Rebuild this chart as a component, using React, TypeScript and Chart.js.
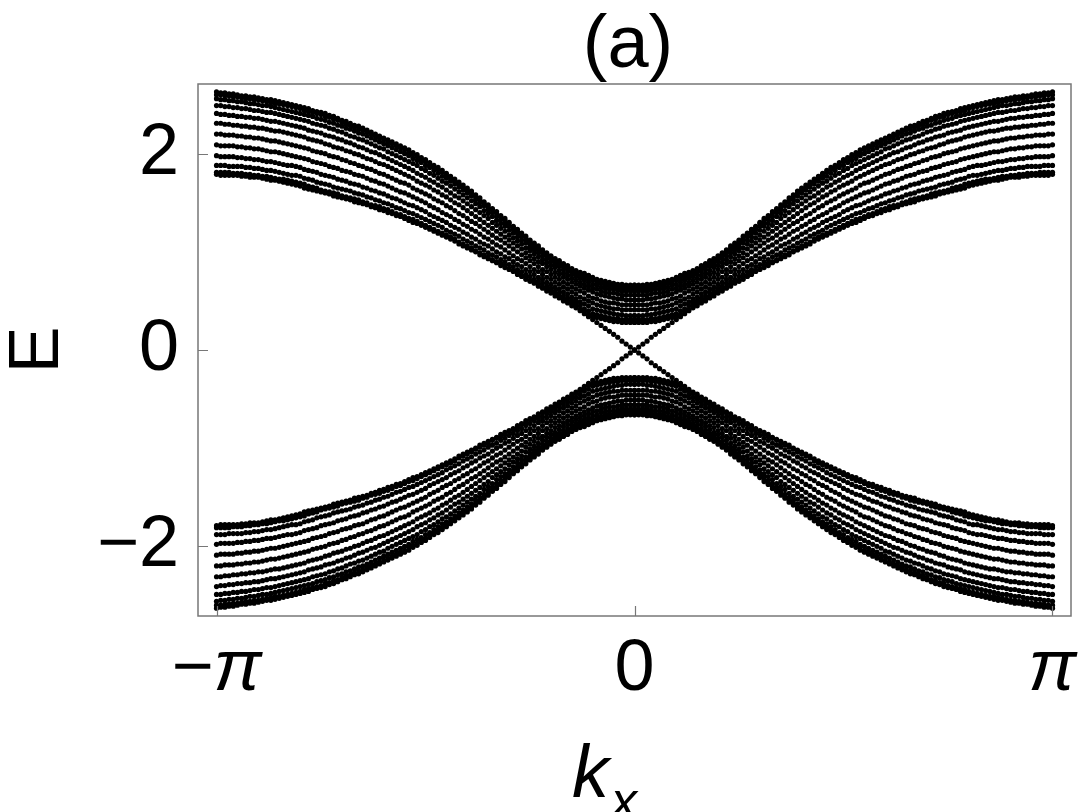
import React, { useEffect, useRef } from 'react';
import { Chart, registerables } from 'chart.js';

Chart.register(...registerables);

// kx in units of pi (right half, 0..1); the picture is mirror-symmetric in kx and in E
const U = [0,0.01,0.02,0.03,0.04,0.05,0.06,0.07,0.08,0.09,0.1,0.11,0.12,0.13,0.14,0.15,0.16,0.17,0.18,0.19,0.2,0.21,0.22,0.23,0.24,0.25,0.26,0.27,0.28,0.29,0.3,0.31,0.32,0.33,0.34,0.35,0.36,0.37,0.38,0.39,0.4,0.41,0.42,0.43,0.44,0.45,0.46,0.47,0.48,0.49,0.5,0.51,0.52,0.53,0.54,0.55,0.56,0.57,0.58,0.59,0.6,0.61,0.62,0.63,0.64,0.65,0.66,0.67,0.68,0.69,0.7,0.71,0.72,0.73,0.74,0.75,0.76,0.77,0.78,0.79,0.8,0.81,0.82,0.83,0.84,0.85,0.86,0.87,0.88,0.89,0.9,0.91,0.92,0.93,0.94,0.95,0.96,0.97,0.98,0.99,1];

// edge-state branch (crosses zero at kx = 0, merges into the band at larger kx)
const BAND_EDGE = [0,.03,.06,.09,.13,.16,.19,.22,.25,.28,.31,.34,.37,.40,.43,.45,.48,.50,.53,.55,.58,.60,.63,.65,.68,.70,.72,.75,.77,.80,.82,.84,.86,.89,.91,.93,.95,.97,1.00,1.02,1.04,1.06,1.08,1.11,1.13,1.15,1.17,1.19,1.21,1.23,1.25,1.27,1.29,1.30,1.32,1.34,1.36,1.37,1.39,1.40,1.42,1.43,1.45,1.46,1.48,1.49,1.50,1.51,1.53,1.54,1.55,1.56,1.57,1.59,1.60,1.61,1.62,1.63,1.64,1.65,1.67,1.68,1.69,1.70,1.71,1.72,1.73,1.73,1.74,1.75,1.76,1.76,1.76,1.77,1.77,1.78,1.78,1.78,1.78,1.78,1.79];
const BAND_1 = [.28,.28,.28,.28,.29,.29,.30,.31,.32,.33,.34,.36,.39,.41,.44,.47,.50,.52,.55,.57,.60,.62,.64,.67,.69,.71,.74,.76,.79,.81,.83,.86,.88,.90,.92,.95,.97,.99,1.01,1.04,1.06,1.08,1.10,1.13,1.15,1.17,1.19,1.21,1.23,1.25,1.27,1.29,1.31,1.33,1.34,1.36,1.38,1.39,1.41,1.43,1.44,1.46,1.47,1.48,1.50,1.51,1.53,1.54,1.55,1.56,1.57,1.59,1.60,1.61,1.62,1.63,1.65,1.66,1.67,1.69,1.70,1.71,1.72,1.73,1.74,1.74,1.75,1.76,1.77,1.77,1.78,1.78,1.79,1.79,1.80,1.80,1.80,1.81,1.81,1.81,1.81];
const BAND_2 = [.31,.31,.31,.31,.32,.32,.33,.34,.35,.36,.37,.40,.42,.45,.48,.50,.53,.55,.58,.60,.63,.65,.68,.70,.72,.75,.77,.80,.82,.85,.87,.90,.92,.95,.97,.99,1.02,1.04,1.06,1.09,1.11,1.13,1.16,1.18,1.20,1.22,1.25,1.27,1.29,1.31,1.33,1.35,1.37,1.39,1.40,1.42,1.44,1.45,1.47,1.49,1.50,1.52,1.53,1.55,1.56,1.58,1.59,1.60,1.62,1.63,1.64,1.65,1.66,1.68,1.69,1.70,1.71,1.73,1.74,1.75,1.77,1.78,1.78,1.79,1.80,1.81,1.82,1.83,1.83,1.84,1.85,1.85,1.86,1.86,1.87,1.87,1.87,1.87,1.88,1.88,1.88];
const BAND_3 = [.35,.35,.35,.36,.36,.37,.38,.39,.40,.41,.42,.45,.47,.49,.52,.54,.57,.59,.62,.64,.67,.69,.72,.74,.77,.80,.82,.85,.87,.90,.93,.95,.98,1.00,1.03,1.06,1.08,1.10,1.13,1.15,1.18,1.20,1.23,1.25,1.27,1.30,1.32,1.34,1.36,1.38,1.41,1.43,1.45,1.47,1.48,1.50,1.52,1.54,1.55,1.57,1.59,1.60,1.62,1.63,1.65,1.66,1.68,1.69,1.70,1.72,1.73,1.74,1.76,1.77,1.78,1.79,1.81,1.82,1.83,1.84,1.86,1.87,1.88,1.88,1.89,1.90,1.91,1.92,1.92,1.93,1.94,1.94,1.95,1.95,1.96,1.96,1.97,1.97,1.97,1.97,1.98];
const BAND_4 = [.41,.41,.41,.41,.42,.42,.43,.44,.45,.46,.48,.50,.52,.54,.57,.59,.62,.64,.67,.69,.72,.74,.77,.80,.82,.85,.88,.91,.93,.96,.99,1.02,1.05,1.07,1.10,1.13,1.15,1.18,1.21,1.23,1.26,1.28,1.31,1.33,1.36,1.38,1.40,1.43,1.45,1.47,1.50,1.52,1.54,1.56,1.58,1.60,1.61,1.63,1.65,1.67,1.69,1.70,1.72,1.73,1.75,1.77,1.78,1.79,1.81,1.82,1.83,1.85,1.86,1.87,1.89,1.90,1.91,1.92,1.94,1.95,1.96,1.97,1.98,1.99,2.00,2.01,2.02,2.02,2.03,2.04,2.05,2.05,2.06,2.06,2.07,2.07,2.08,2.08,2.08,2.08,2.09];
const BAND_5 = [.46,.46,.46,.46,.47,.48,.48,.49,.50,.52,.53,.55,.58,.60,.62,.64,.67,.69,.72,.74,.77,.80,.82,.85,.88,.91,.94,.97,1.00,1.03,1.06,1.09,1.12,1.14,1.17,1.20,1.23,1.26,1.29,1.31,1.34,1.37,1.39,1.42,1.45,1.47,1.50,1.52,1.54,1.57,1.59,1.61,1.63,1.65,1.68,1.70,1.71,1.73,1.75,1.77,1.79,1.80,1.82,1.84,1.85,1.87,1.88,1.90,1.91,1.93,1.94,1.96,1.97,1.98,2.00,2.01,2.02,2.03,2.05,2.06,2.07,2.08,2.09,2.10,2.11,2.12,2.13,2.13,2.14,2.15,2.16,2.16,2.17,2.17,2.18,2.18,2.19,2.19,2.19,2.20,2.20];
const BAND_6 = [.51,.51,.51,.52,.52,.53,.54,.55,.56,.57,.59,.61,.63,.65,.67,.69,.72,.74,.77,.79,.82,.85,.88,.90,.93,.96,.99,1.03,1.06,1.09,1.12,1.15,1.18,1.21,1.24,1.27,1.30,1.33,1.36,1.39,1.42,1.45,1.48,1.50,1.53,1.56,1.58,1.61,1.63,1.66,1.68,1.70,1.72,1.75,1.77,1.79,1.81,1.83,1.85,1.87,1.89,1.90,1.92,1.94,1.95,1.97,1.99,2.00,2.02,2.03,2.05,2.06,2.07,2.09,2.10,2.12,2.13,2.14,2.15,2.17,2.18,2.19,2.20,2.21,2.22,2.23,2.23,2.24,2.25,2.26,2.26,2.27,2.27,2.28,2.28,2.29,2.29,2.30,2.30,2.31,2.31];
const BAND_7 = [.56,.56,.56,.56,.57,.58,.58,.59,.60,.62,.63,.65,.67,.69,.71,.73,.76,.78,.81,.84,.86,.89,.92,.95,.98,1.01,1.04,1.08,1.11,1.14,1.17,1.21,1.24,1.27,1.30,1.34,1.37,1.40,1.43,1.46,1.49,1.52,1.55,1.57,1.60,1.63,1.66,1.68,1.71,1.73,1.76,1.78,1.80,1.83,1.85,1.87,1.89,1.91,1.93,1.95,1.97,1.99,2.01,2.02,2.04,2.06,2.07,2.09,2.11,2.12,2.14,2.15,2.17,2.18,2.19,2.21,2.22,2.23,2.24,2.26,2.27,2.28,2.29,2.30,2.31,2.32,2.33,2.33,2.34,2.35,2.36,2.36,2.37,2.37,2.38,2.38,2.39,2.39,2.40,2.40,2.41];
const BAND_8 = [.60,.60,.60,.60,.61,.62,.62,.63,.64,.66,.67,.69,.71,.73,.75,.77,.80,.82,.85,.87,.90,.93,.96,.99,1.02,1.05,1.09,1.12,1.15,1.19,1.22,1.26,1.29,1.32,1.36,1.39,1.42,1.46,1.49,1.52,1.55,1.58,1.61,1.64,1.67,1.70,1.72,1.75,1.78,1.80,1.83,1.85,1.88,1.90,1.92,1.94,1.96,1.98,2.00,2.02,2.05,2.06,2.08,2.10,2.12,2.14,2.15,2.17,2.18,2.20,2.22,2.23,2.25,2.26,2.28,2.29,2.30,2.31,2.33,2.34,2.35,2.36,2.37,2.38,2.39,2.40,2.41,2.42,2.42,2.43,2.44,2.44,2.45,2.46,2.46,2.47,2.47,2.48,2.48,2.49,2.49];
const BAND_9 = [.63,.63,.63,.63,.64,.65,.65,.66,.68,.69,.71,.72,.74,.76,.78,.80,.83,.85,.88,.90,.93,.96,.99,1.02,1.05,1.08,1.12,1.16,1.19,1.23,1.26,1.29,1.33,1.36,1.40,1.43,1.47,1.50,1.53,1.57,1.60,1.63,1.66,1.69,1.72,1.75,1.77,1.80,1.83,1.86,1.88,1.91,1.93,1.95,1.98,2.00,2.02,2.04,2.06,2.08,2.10,2.12,2.14,2.16,2.18,2.20,2.21,2.23,2.25,2.26,2.28,2.29,2.31,2.32,2.34,2.35,2.36,2.38,2.39,2.40,2.41,2.42,2.43,2.44,2.45,2.46,2.47,2.48,2.49,2.49,2.50,2.51,2.51,2.52,2.53,2.53,2.54,2.54,2.55,2.55,2.56];
const BAND_10 = [.65,.65,.65,.65,.66,.67,.67,.68,.70,.71,.73,.75,.76,.78,.80,.82,.85,.87,.90,.92,.95,.98,1.01,1.04,1.08,1.11,1.14,1.18,1.21,1.25,1.29,1.32,1.36,1.39,1.43,1.46,1.50,1.53,1.56,1.60,1.63,1.66,1.69,1.72,1.75,1.78,1.81,1.84,1.86,1.89,1.92,1.94,1.97,1.99,2.01,2.04,2.06,2.08,2.10,2.12,2.14,2.16,2.18,2.20,2.22,2.24,2.25,2.27,2.29,2.30,2.32,2.34,2.35,2.37,2.38,2.40,2.41,2.42,2.43,2.44,2.46,2.47,2.48,2.49,2.50,2.51,2.51,2.52,2.53,2.54,2.55,2.55,2.56,2.56,2.57,2.58,2.58,2.59,2.59,2.60,2.60];
const BAND_11 = [.66,.66,.66,.67,.67,.68,.69,.70,.71,.72,.74,.76,.78,.79,.81,.83,.86,.88,.91,.93,.96,.99,1.02,1.06,1.09,1.12,1.16,1.19,1.23,1.26,1.30,1.34,1.37,1.41,1.44,1.48,1.51,1.55,1.58,1.62,1.65,1.68,1.71,1.74,1.77,1.80,1.83,1.86,1.88,1.91,1.94,1.96,1.99,2.01,2.04,2.06,2.08,2.10,2.12,2.14,2.16,2.18,2.20,2.22,2.24,2.26,2.28,2.29,2.31,2.33,2.34,2.36,2.38,2.39,2.41,2.42,2.43,2.44,2.46,2.47,2.48,2.49,2.50,2.51,2.52,2.53,2.54,2.55,2.55,2.56,2.57,2.58,2.58,2.59,2.59,2.60,2.61,2.61,2.62,2.62,2.63];

const BANDS = [BAND_EDGE, BAND_1, BAND_2, BAND_3, BAND_4, BAND_5, BAND_6, BAND_7, BAND_8, BAND_9, BAND_10, BAND_11];

const Y_TICKS = [-2, 0, 2];
const X_TICKS = [-1, 0, 1]; // multiples of pi
const TITLE = '(a)';
const Y_TITLE = 'E';

const FONT = '"Liberation Sans", Arial, Helvetica, sans-serif';

const decorPlugin = {
  id: 'decor',
  afterDraw(chart: any) {
    const { ctx, chartArea: a, scales } = chart;
    const x = scales.x;
    const y = scales.y;
    ctx.save();
    // frame
    ctx.strokeStyle = '#777';
    ctx.lineWidth = 1.5;
    ctx.strokeRect(a.left, a.top, a.right - a.left, a.bottom - a.top);
    // inward ticks
    ctx.lineWidth = 1.2;
    ctx.beginPath();
    for (const v of X_TICKS) {
      const px = Math.round(x.getPixelForValue(v)) + 0.5;
      ctx.moveTo(px, a.bottom);
      ctx.lineTo(px, a.bottom - 10);
    }
    for (const v of Y_TICKS) {
      const py = Math.round(y.getPixelForValue(v)) + 0.5;
      ctx.moveTo(a.left, py);
      ctx.lineTo(a.left + 10, py);
    }
    ctx.stroke();

    ctx.fillStyle = '#000';
    ctx.textBaseline = 'alphabetic';
    // x tick labels: −π, 0, π (π italic)
    const baseY = a.bottom + 74;
    const up = `72px ${FONT}`;
    const it = `italic 72px ${FONT}`;
    for (const v of X_TICKS) {
      const px = x.getPixelForValue(v);
      let parts: [string, string][];
      if (v === 0) parts = [['0', up]];
      else if (v < 0) parts = [['−', up], ['π', it]];
      else parts = [['π', it]];
      let w = 0;
      for (const [t, f] of parts) { ctx.font = f; w += ctx.measureText(t).width; }
      let cx = px - w / 2;
      ctx.textAlign = 'left';
      for (const [t, f] of parts) { ctx.font = f; ctx.fillText(t, cx, baseY); cx += ctx.measureText(t).width; }
    }

    // title
    ctx.font = `74px ${FONT}`;
    ctx.textAlign = 'center';
    ctx.fillText(TITLE, 628, 67);

    // y title
    ctx.save();
    ctx.translate(39, 350);
    ctx.rotate(-Math.PI / 2);
    ctx.font = `70px ${FONT}`;
    ctx.textAlign = 'center';
    ctx.textBaseline = 'middle';
    ctx.fillText(Y_TITLE, 0, 0);
    ctx.restore();

    // x title: k_x
    ctx.textAlign = 'left';
    ctx.font = `italic 74px ${FONT}`;
    ctx.fillText('k', 572, 797);
    const kw = ctx.measureText('k').width;
    ctx.font = `italic 52px ${FONT}`;
    ctx.fillText('x', 572 + kw + 2, 818);
    ctx.restore();
  },
};

export default function App() {
  const ref = useRef<HTMLCanvasElement>(null);
  useEffect(() => {
    if (!ref.current) return;
    const datasets: any[] = [];
    for (const band of BANDS) {
      for (const sx of [1, -1]) {
        for (const sy of [1, -1]) {
          const pts = U.map((u, i) => ({ x: sx * u, y: sy * band[i] }));
          datasets.push({
            data: pts,
            showLine: false,
            pointRadius: 2.6,
            pointHoverRadius: 2.6,
            pointBorderWidth: 0,
            pointBackgroundColor: '#000',
            backgroundColor: '#000',
            borderColor: '#000',
          });
        }
      }
    }
    const chart = new Chart(ref.current, {
      type: 'scatter',
      data: { datasets },
      options: {
        animation: false,
        responsive: true,
        maintainAspectRatio: false,
        events: [],
        layout: { padding: { top: 84, right: 12, bottom: 0, left: 0 } },
        plugins: { legend: { display: false }, tooltip: { enabled: false }, title: { display: false } },
        scales: {
          x: {
            type: 'linear',
            min: -1.0443,
            max: 1.0443,
            grid: { display: false },
            border: { display: false },
            ticks: { display: false },
            afterBuildTicks: (s: any) => { s.ticks = X_TICKS.map((v) => ({ value: v })); },
            afterFit: (s: any) => { s.height = 196; },
          },
          y: {
            type: 'linear',
            min: -2.71,
            max: 2.71,
            grid: { display: false },
            border: { display: false },
            afterBuildTicks: (s: any) => { s.ticks = Y_TICKS.map((v) => ({ value: v })); },
            ticks: {
              color: '#000',
              padding: 11,
              font: { family: FONT, size: 72 },
              callback: (v: any) => (Number(v) < 0 ? '−' + Math.abs(Number(v)) : String(v)),
            },
            afterFit: (s: any) => { s.width = 198; },
          },
        },
      },
      plugins: [decorPlugin],
    });
    return () => chart.destroy();
  }, []);
  return (
    <div style={{ position: 'absolute', left: 0, top: 0, width: 1083, height: 812, background: '#fff' }}>
      <canvas ref={ref} />
    </div>
  );
}
